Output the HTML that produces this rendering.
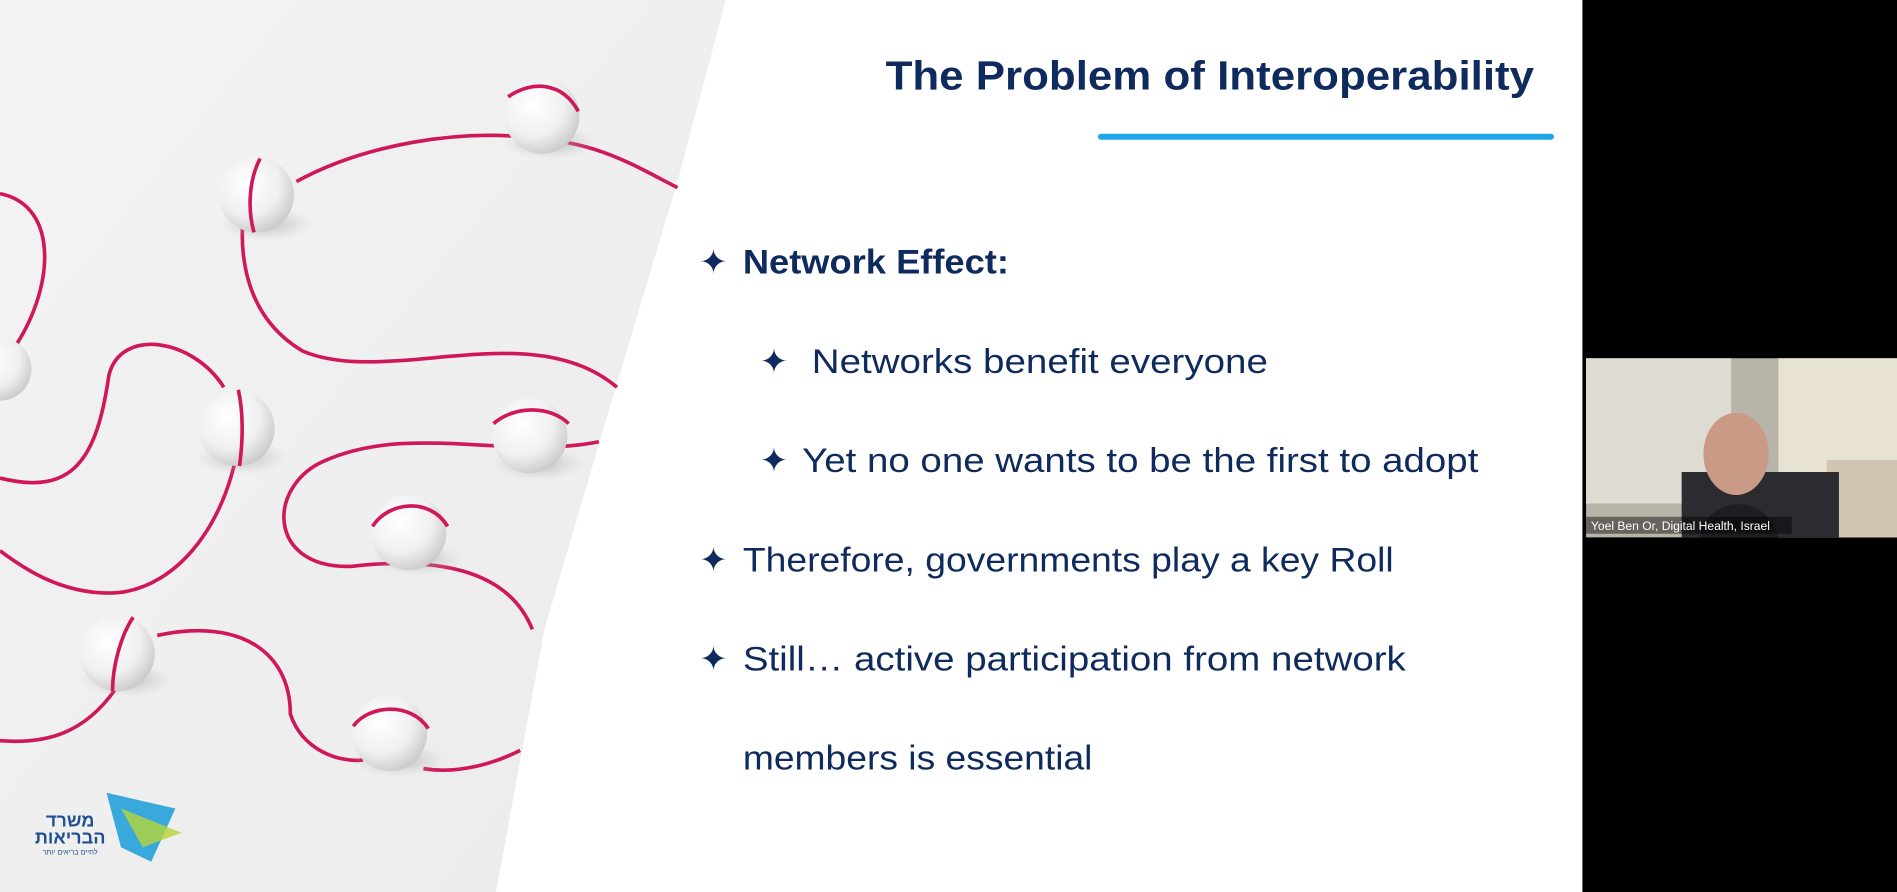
<!DOCTYPE html>
<html><head><meta charset="utf-8"><style>
html,body{margin:0;padding:0;background:#000;overflow:hidden}
svg{display:block}
text{font-family:"Liberation Sans","DejaVu Sans",sans-serif}
</style></head><body>
<svg width="1897" height="892" viewBox="0 0 1568 737" preserveAspectRatio="none" xmlns="http://www.w3.org/2000/svg">
<defs>
<radialGradient id="sph" cx="0.38" cy="0.35" r="0.7">
<stop offset="0" stop-color="#ffffff"/><stop offset="0.6" stop-color="#f0f0f0"/><stop offset="1" stop-color="#c8c8c8"/>
</radialGradient>
<radialGradient id="sh" cx="0.5" cy="0.5" r="0.5">
<stop offset="0" stop-color="#9a9a9a" stop-opacity="0.6"/><stop offset="1" stop-color="#bbb" stop-opacity="0"/>
</radialGradient>
<linearGradient id="bg" x1="0" y1="0" x2="1" y2="1">
<stop offset="0" stop-color="#f3f3f3"/><stop offset="1" stop-color="#ebebeb"/>
</linearGradient>
</defs>
<rect x="0" y="0" width="1308" height="737" fill="#fff"/>
<rect x="1308" y="0" width="260" height="737" fill="#000"/>
<polygon points="0,0 600,0 560,150 500,350 450,520 410,737 0,737" fill="url(#bg)"/>
<g fill="none" stroke="#d0175a" stroke-width="3">
<path d="M0,160 C50,170 45,240 10,290"/>
<path d="M245,150 C300,120 380,105 450,115 C500,120 530,140 560,155"/>
<path d="M210,135 C190,200 200,260 250,290 C320,320 440,260 510,320"/>
<path d="M0,395 C60,410 80,380 90,310 C100,270 160,280 185,320"/>
<path d="M200,330 C200,420 150,490 90,490 C50,490 20,470 0,455"/>
<path d="M495,365 C420,380 340,350 270,380 C220,400 220,470 290,468 C360,460 420,470 440,520"/>
<path d="M130,525 C200,510 240,540 240,590 C250,620 280,630 300,628"/>
<path d="M95,570 C70,605 40,615 0,612"/>
<path d="M350,635 C380,640 410,630 430,620"/>
</g>
<g>
<ellipse cx="455" cy="118" rx="38" ry="14" fill="url(#sh)"/><circle cx="448" cy="96" r="31" fill="url(#sph)"/><path d="M420,80 C440,66 465,68 478,92" stroke="#d0175a" stroke-width="3" fill="none"/>
<ellipse cx="220" cy="185" rx="38" ry="14" fill="url(#sh)"/><circle cx="212" cy="161" r="31" fill="url(#sph)"/><path d="M215,131 C205,150 205,175 210,192" stroke="#d0175a" stroke-width="3" fill="none"/>
<ellipse cx="200" cy="378" rx="38" ry="14" fill="url(#sh)"/><circle cx="196" cy="354" r="31" fill="url(#sph)"/><path d="M197,322 C202,345 200,370 198,385" stroke="#d0175a" stroke-width="3" fill="none"/>
<ellipse cx="445" cy="383" rx="38" ry="14" fill="url(#sh)"/><circle cx="438" cy="360" r="31" fill="url(#sph)"/><path d="M408,350 C425,335 455,335 470,350" stroke="#d0175a" stroke-width="3" fill="none"/>
<ellipse cx="345" cy="462" rx="38" ry="14" fill="url(#sh)"/><circle cx="338" cy="440" r="31" fill="url(#sph)"/><path d="M308,435 C320,415 355,410 370,435" stroke="#d0175a" stroke-width="3" fill="none"/>
<ellipse cx="105" cy="562" rx="38" ry="14" fill="url(#sh)"/><circle cx="97" cy="540" r="31" fill="url(#sph)"/><path d="M110,510 C100,525 93,550 93,571" stroke="#d0175a" stroke-width="3" fill="none"/>
<ellipse cx="330" cy="628" rx="38" ry="14" fill="url(#sh)"/><circle cx="322" cy="606" r="31" fill="url(#sph)"/><path d="M292,600 C305,582 340,580 354,602" stroke="#d0175a" stroke-width="3" fill="none"/>
<circle cx="0" cy="305" r="26" fill="url(#sph)"/>
</g>
<g>
<polygon points="88,655 145,668 125,712 100,700" fill="#39a9dc"/>
<polygon points="100,668 150,688 118,700" fill="#b6d437" opacity="0.8"/>
<text x="58" y="683" font-size="15" fill="#1d4f91" text-anchor="middle" font-weight="bold" font-family="DejaVu Sans,sans-serif">משרד</text>
<text x="58" y="697" font-size="15" fill="#1d4f91" text-anchor="middle" font-weight="bold" font-family="DejaVu Sans,sans-serif">הבריאות</text>
<text x="58" y="706" font-size="6" fill="#1d4f91" text-anchor="middle">לחיים בריאים יותר</text>
</g>
<text x="732" y="74" font-size="34" font-weight="bold" fill="#0f2a5c" textLength="536" lengthAdjust="spacingAndGlyphs">The Problem of Interoperability</text>
<path d="M910,113 L1282,113" stroke="#1ea6e6" stroke-width="5" stroke-linecap="round"/>
<g font-size="28" fill="#0f2a5c">
<text x="578" y="226">✦</text><text x="614" y="226" font-weight="bold" textLength="220" lengthAdjust="spacingAndGlyphs">Network Effect:</text>
<text x="628" y="308">✦</text><text x="671" y="308" textLength="377" lengthAdjust="spacingAndGlyphs">Networks benefit everyone</text>
<text x="628" y="390">✦</text><text x="663" y="390" textLength="559" lengthAdjust="spacingAndGlyphs">Yet no one wants to be the first to adopt</text>
<text x="578" y="472">✦</text><text x="614" y="472" textLength="538" lengthAdjust="spacingAndGlyphs">Therefore, governments play a key Roll</text>
<text x="578" y="554">✦</text><text x="614" y="554" textLength="548" lengthAdjust="spacingAndGlyphs">Still… active participation from network</text>
<text x="614" y="636" textLength="289" lengthAdjust="spacingAndGlyphs">members is essential</text>
</g>
<rect x="1311" y="296" width="257" height="148" fill="#b9b4a8"/>
<rect x="1311" y="296" width="120" height="120" fill="#dedbd3"/>
<rect x="1470" y="296" width="98" height="148" fill="#e8e2d3"/>
<rect x="1510" y="380" width="58" height="64" fill="#cfc5b0"/>
<rect x="1390" y="390" width="130" height="54" fill="#2c2c30"/>
<ellipse cx="1435" cy="375" rx="27" ry="34" fill="#c99a86"/>
<path d="M1405,444 C1410,410 1460,405 1470,444Z" fill="#1e1e22"/>
<rect x="1311" y="427" width="170" height="14" fill="#000" opacity="0.45"/>
<text x="1315" y="438" font-size="10" fill="#fff">Yoel Ben Or, Digital Health, Israel</text>
</svg>
</body></html>
